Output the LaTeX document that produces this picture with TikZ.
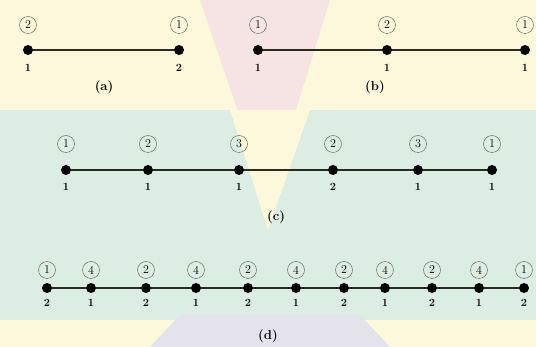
\documentclass[tikz,border=0pt]{standalone}
\usepackage{tikz}
\usetikzlibrary{positioning,calc}
\usepackage{xcolor}
\definecolor{paper}{HTML}{FBF8DC}
\definecolor{mint}{HTML}{DCEEE4}
\definecolor{blush}{HTML}{F6E4E4}
\definecolor{lilac}{HTML}{E4E2EA}
\definecolor{edgecol}{HTML}{2A2A1E}
\definecolor{ringcol}{HTML}{5A5A50}

\begin{document}
\begin{tikzpicture}[x=1pt, y=-1pt,
  vtx/.style={circle, fill=black, inner sep=0pt, minimum size=10pt},
  ring/.style={circle, draw=ringcol, thin, inner sep=0pt, minimum size=17pt, font=\fontsize{12}{12}\selectfont},
  deg/.style={font=\bfseries\fontsize{11}{11}\selectfont},
  caption/.style={font=\bfseries\fontsize{13}{13}\selectfont},
  link/.style={edgecol, line width=1.3pt}]
  \useasboundingbox (0,0) rectangle (536,347);
  % watermark tints
  \fill[paper] (0,0) rectangle (536,347);
  \fill[mint] (0,110) rectangle (536,320);
  \fill[blush] (200,0) -- (330,0) -- (268,200) -- cycle;
  \fill[paper] (230,110) -- (310,110) -- (268,230) -- cycle;
  \fill[lilac] (150,347) -- (180,315) -- (360,315) -- (390,347) -- cycle;
  % (a) two vertices
  \node[vtx] (a1) at (28,50) {};
  \node[vtx] (a2) at (179,50) {};
  \draw[link] (a1) -- (a2);
  \node[ring] (ra1) at (28,25) {2};  \node[deg] (da1) at (28,68) {1};
  \node[ring] (ra2) at (179,25) {1}; \node[deg] (da2) at (179,68) {2};
  \node[caption] (capa) at (104,87) {(a)};
  % (b) three vertices
  \node[vtx] (b1) at (258,50) {};
  \node[vtx] (b2) at (387,50) {};
  \node[vtx] (b3) at (525,50) {};
  \draw[link] (b1) -- (b2) -- (b3);
  \node[ring] (rb1) at (258,25) {1}; \node[deg] (db1) at (258,68) {1};
  \node[ring] (rb2) at (387,25) {2}; \node[deg] (db2) at (387,68) {1};
  \node[ring] (rb3) at (525,25) {1}; \node[deg] (db3) at (525,68) {1};
  \node[caption] (capb) at (375,87) {(b)};
  % (c) six vertices
  \foreach \i/\x/\r/\d in {1/66/1/1, 2/148/2/1, 3/239/3/1, 4/333/2/2, 5/418/3/1, 6/492/1/1} {
    \node[vtx] (c\i) at (\x,170) {};
    \node[ring] (rc\i) at (\x,144) {\r};
    \node[deg] (dc\i) at (\x,187) {\d};
  }
  \draw[link] (c1) -- (c2) -- (c3) -- (c4) -- (c5) -- (c6);
  \node[caption] (capc) at (276,217) {(c)};
  % (d) eleven vertices
  \foreach \i/\x/\r/\d in {1/47/1/2, 2/91/4/1, 3/146/2/2, 4/196/4/1, 5/248/2/2, 6/296/4/1,
                           7/344/2/2, 8/385/4/1, 9/432/2/2, 10/479/4/1, 11/524/1/2} {
    \node[vtx] (d\i) at (\x,288) {};
    \node[ring] (rd\i) at (\x,270) {\r};
    \node[deg] (dd\i) at (\x,303) {\d};
  }
  \draw[link] (d1) -- (d2) -- (d3) -- (d4) -- (d5) -- (d6) -- (d7) -- (d8) -- (d9) -- (d10) -- (d11);
  \node[caption] (capd) at (268,336) {(d)};
\end{tikzpicture}
\end{document}
